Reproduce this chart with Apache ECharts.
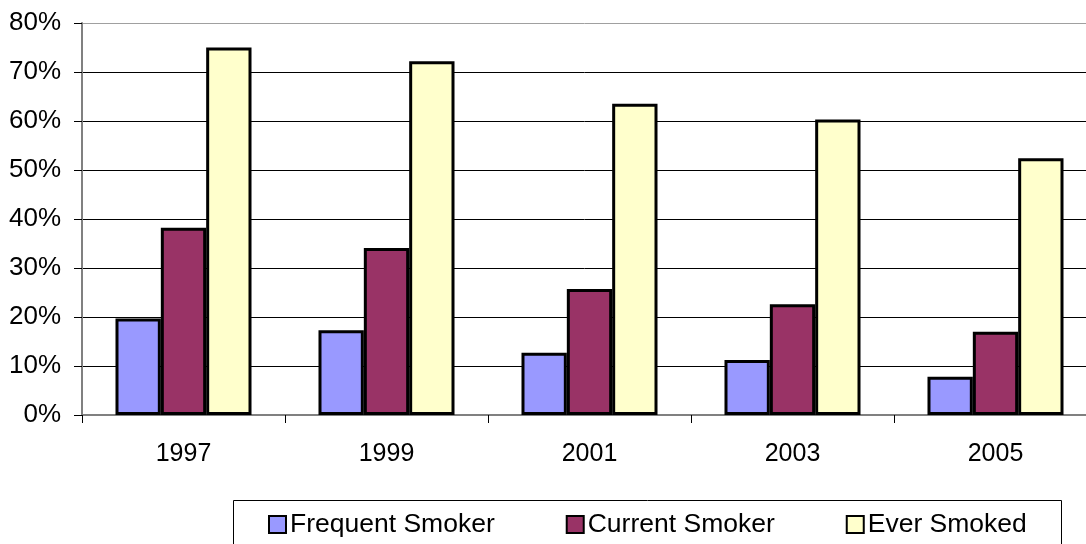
<!DOCTYPE html>
<html>
<head>
<meta charset="utf-8">
<script src="https://cdn.jsdelivr.net/npm/echarts@6/dist/echarts.min.js"></script>
<style>
  html, body { margin: 0; padding: 0; background: #fff; }
  #chart { width: 1086px; height: 544px; }
</style>
</head>
<body>
<div id="chart"></div>
<script>
// Survey years and smoking rates (percent)
const years = ['1997', '1999', '2001', '2003', '2005'];
const frequentSmoker = [19.7, 17.3, 12.7, 11.2, 7.8];
const currentSmoker = [38.2, 34.1, 25.7, 22.6, 17.0];
const everSmoked = [75.0, 72.2, 63.5, 60.3, 52.4];
const seriesNames = ['Frequent Smoker', 'Current Smoker', 'Ever Smoked'];

const FONT = '"Liberation Sans", Arial, sans-serif';
const chart = echarts.init(document.getElementById('chart'));

function barSeries(name, data, color) {
  return {
    name: name,
    type: 'bar',
    data: data,
    barGap: '0%',
    barCategoryGap: '33%',
    itemStyle: { color: color, borderColor: '#000', borderWidth: 3 }
  };
}

chart.setOption({
  animation: false,
  backgroundColor: '#fff',
  // plot area runs past the right edge of the canvas
  grid: { left: 82, top: 23, width: 1015, height: 392, outerBoundsMode: 'none', containLabel: false },
  xAxis: {
    type: 'category',
    data: years,
    axisLine: { lineStyle: { color: '#808080', width: 2 } },
    axisTick: { show: true, length: 8, lineStyle: { color: '#000', width: 1 } },
    axisLabel: { color: '#000', fontFamily: FONT, fontSize: 25, lineHeight: 25, margin: 27 }
  },
  yAxis: {
    type: 'value',
    min: 0, max: 80, interval: 10,
    axisLine: { show: true, lineStyle: { color: '#808080', width: 2 } },
    axisTick: { show: true, length: 8, lineStyle: { color: '#000', width: 1 } },
    axisLabel: { color: '#000', fontFamily: FONT, fontSize: 26, margin: 21, formatter: '{value}%' },
    splitLine: {
      show: true,
      lineStyle: {
        width: 1,
        color: ['#808080', '#000', '#000', '#000', '#000', '#000', '#000', '#000', '#a0a0a0']
      }
    }
  },
  legend: {
    data: seriesNames,
    left: 268, top: 511,
    padding: 0,
    itemGap: 71,
    itemWidth: 17, itemHeight: 17,
    icon: 'rect',
    itemStyle: { borderColor: '#000', borderWidth: 2 },
    textStyle: { color: '#000', fontFamily: FONT, fontSize: 26.5, lineHeight: 26, padding: [0, 0, 0, -1] }
  },
  graphic: [{
    type: 'rect',
    silent: true,
    z: -1,
    shape: { x: 233.5, y: 500.5, width: 828, height: 60 },
    style: { fill: '#fff', stroke: '#000', lineWidth: 1 }
  }],
  series: [
    barSeries(seriesNames[0], frequentSmoker, '#9999FF'),
    barSeries(seriesNames[1], currentSmoker, '#993366'),
    barSeries(seriesNames[2], everSmoked, '#FFFFCC')
  ]
});
</script>
</body>
</html>
